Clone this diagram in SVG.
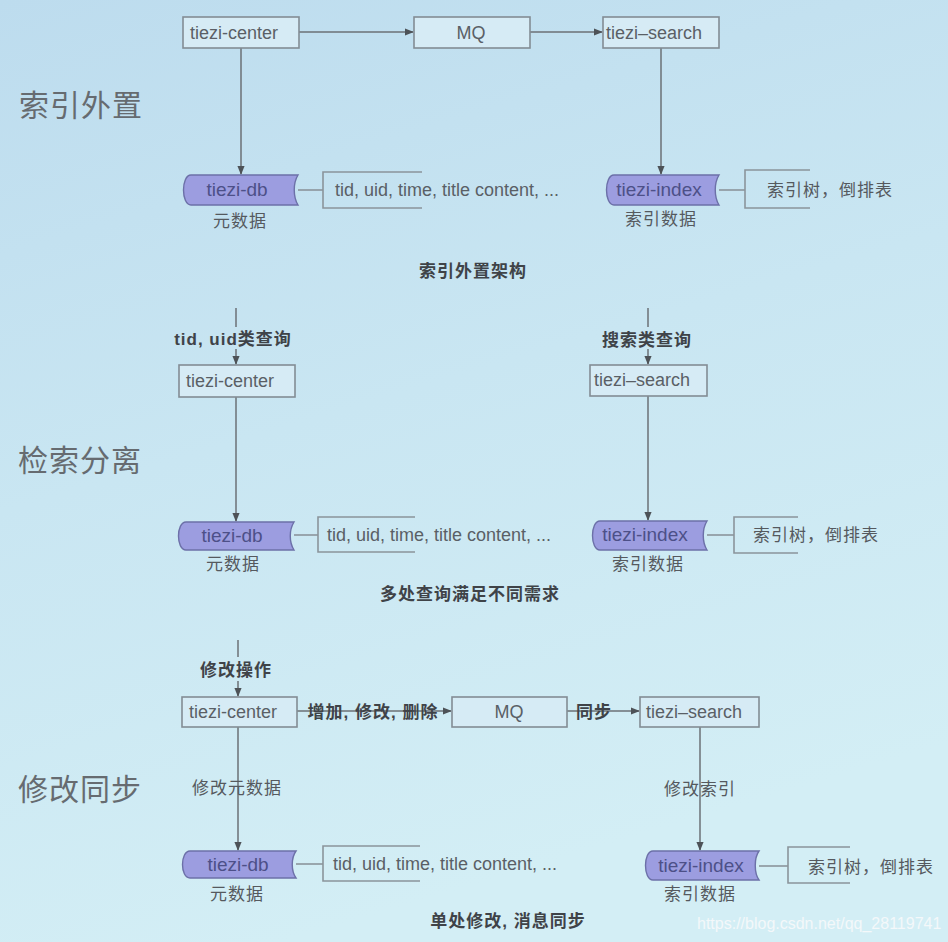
<svg xmlns="http://www.w3.org/2000/svg" width="948" height="942" viewBox="0 0 948 942">
<defs>
<linearGradient id="bg" x1="0" y1="0" x2="0.3" y2="1">
<stop offset="0" stop-color="#bddcee"/>
<stop offset="0.5" stop-color="#c9e6f2"/>
<stop offset="1" stop-color="#d3eef5"/>
</linearGradient>
<marker id="ah" viewBox="0 0 10 10" refX="9" refY="5" markerWidth="9" markerHeight="9" markerUnits="userSpaceOnUse" orient="auto">
<path d="M0,1 L10,5 L0,9 Z" fill="#4d5257"/>
</marker>
<style>
.box{fill:#d6ebf5;stroke:#838c94;stroke-width:1.6}
.db{fill:#9c9de0;stroke:#6c70a8;stroke-width:1.4}
.ln{fill:none;stroke:#6b7176;stroke-width:1.5}
.br{fill:none;stroke:#8b949b;stroke-width:1.6}
.t{font-family:"Liberation Sans",Arial,sans-serif;font-size:18px;fill:#5a5f66}
.tp{font-family:"Liberation Sans",Arial,sans-serif;font-size:19px;fill:#4d5088}
.cj{font-family:"Noto Sans CJK SC","Liberation Sans",sans-serif;font-size:17px;letter-spacing:1px;fill:#55595e}
.cb{font-family:"Liberation Sans","Noto Sans CJK SC",sans-serif;font-size:17px;letter-spacing:1px;font-weight:bold;fill:#3f4348}
.title{font-family:"Noto Sans CJK SC",sans-serif;font-size:30px;letter-spacing:1px;fill:#666b70}
.wm{font-family:"Liberation Sans",Arial,sans-serif;font-size:16px;fill:#f4f8fa}
</style>
</defs>
<rect width="948" height="942" fill="url(#bg)"/>

<text class="title" x="19" y="116">索引外置</text>
<text class="title" x="18" y="471">检索分离</text>
<text class="title" x="18" y="800">修改同步</text>

<g id="connectors">
<line class="ln" x1="299" y1="32" x2="413" y2="32" marker-end="url(#ah)"/>
<line class="ln" x1="530" y1="32" x2="602" y2="32" marker-end="url(#ah)"/>
<line class="ln" x1="241" y1="48" x2="241" y2="174" marker-end="url(#ah)"/>
<line class="ln" x1="661" y1="48" x2="661" y2="174" marker-end="url(#ah)"/>
<line class="br" x1="298" y1="190" x2="323" y2="190"/>
<line class="br" x1="719" y1="190" x2="745" y2="190"/>

<line class="ln" x1="236" y1="308" x2="236" y2="327"/>
<line class="ln" x1="236" y1="349" x2="236" y2="364" marker-end="url(#ah)"/>
<line class="ln" x1="236" y1="397" x2="236" y2="521" marker-end="url(#ah)"/>
<line class="ln" x1="648" y1="308" x2="648" y2="327"/>
<line class="ln" x1="648" y1="349" x2="648" y2="364" marker-end="url(#ah)"/>
<line class="ln" x1="648" y1="396" x2="648" y2="520" marker-end="url(#ah)"/>
<line class="br" x1="294" y1="535" x2="318" y2="535"/>
<line class="br" x1="707" y1="535" x2="734" y2="535"/>

<line class="ln" x1="238" y1="640" x2="238" y2="657"/>
<line class="ln" x1="238" y1="681" x2="238" y2="696" marker-end="url(#ah)"/>
<line class="ln" x1="297" y1="711" x2="451" y2="711" marker-end="url(#ah)"/>
<line class="ln" x1="567" y1="711" x2="639" y2="711" marker-end="url(#ah)"/>
<line class="ln" x1="238" y1="727" x2="238" y2="850" marker-end="url(#ah)"/>
<line class="ln" x1="700" y1="727" x2="700" y2="850" marker-end="url(#ah)"/>
<line class="br" x1="296" y1="864" x2="323" y2="864"/>
<line class="br" x1="759" y1="866" x2="788" y2="866"/>
</g>

<!-- Section 1 -->
<g id="s1-center"><rect class="box" x="183" y="17" width="116" height="31"/><text class="t" x="190" y="39">tiezi-center</text></g>
<g id="s1-mq"><rect class="box" x="414" y="17" width="116" height="31"/><text class="t" x="471" y="39" text-anchor="middle">MQ</text></g>
<g id="s1-search"><rect class="box" x="603" y="17" width="116" height="31"/><text class="t" x="606" y="39">tiezi–search</text></g>
<g id="s1-db"><path class="db" d="M191,175 H298 C293,183 293,197 298,205 H191 C181,205 181,175 191,175 Z"/><text class="tp" x="237" y="196" text-anchor="middle">tiezi-db</text><text class="cj" x="240" y="227" text-anchor="middle">元数据</text></g>
<g id="s1-dbfields"><path class="br" d="M422,172 H323 V208 H422"/><text class="t" x="335" y="196">tid, uid, time, title content, ...</text></g>
<g id="s1-index"><path class="db" d="M614,175 H719 C714,183 714,197 719,205 H614 C604,205 604,175 614,175 Z"/><text class="tp" x="659" y="196" text-anchor="middle">tiezi-index</text><text class="cj" x="661" y="225" text-anchor="middle">索引数据</text></g>
<g id="s1-indexfields"><path class="br" d="M810,170 H745 V208 H810"/><text class="cj" x="767" y="196">索引树，倒排表</text></g>
<text class="cb" x="473" y="277" text-anchor="middle">索引外置架构</text>

<!-- Section 2 -->
<g id="s2-q1"><text class="cb" x="233" y="345" text-anchor="middle">tid, uid类查询</text></g>
<g id="s2-center"><rect class="box" x="179" y="365" width="116" height="32"/><text class="t" x="186" y="387">tiezi-center</text></g>
<g id="s2-db"><path class="db" d="M186,522 H294 C289,530 289,542 294,550 H186 C176,550 176,522 186,522 Z"/><text class="tp" x="232" y="542" text-anchor="middle">tiezi-db</text><text class="cj" x="233" y="570" text-anchor="middle">元数据</text></g>
<g id="s2-dbfields"><path class="br" d="M415,517 H318 V552 H415"/><text class="t" x="327" y="541">tid, uid, time, title content, ...</text></g>
<g id="s2-q2"><text class="cb" x="647" y="346" text-anchor="middle">搜索类查询</text></g>
<g id="s2-search"><rect class="box" x="590" y="365" width="117" height="31"/><text class="t" x="594" y="386">tiezi–search</text></g>
<g id="s2-index"><path class="db" d="M600,521 H707 C702,529 702,542 707,550 H600 C590,550 590,521 600,521 Z"/><text class="tp" x="645" y="541" text-anchor="middle">tiezi-index</text><text class="cj" x="648" y="570" text-anchor="middle">索引数据</text></g>
<g id="s2-indexfields"><path class="br" d="M798,517 H734 V553 H798"/><text class="cj" x="753" y="541">索引树，倒排表</text></g>
<text class="cb" x="470" y="600" text-anchor="middle">多处查询满足不同需求</text>

<!-- Section 3 -->
<g id="s3-op"><text class="cb" x="236" y="676" text-anchor="middle">修改操作</text></g>
<g id="s3-center"><rect class="box" x="182" y="697" width="115" height="30"/><text class="t" x="189" y="718">tiezi-center</text></g>
<text class="cb" x="373" y="718" text-anchor="middle">增加, 修改, 删除</text>
<g id="s3-mq"><rect class="box" x="452" y="697" width="115" height="30"/><text class="t" x="509" y="718" text-anchor="middle">MQ</text></g>
<text class="cb" x="594" y="718" text-anchor="middle">同步</text>
<g id="s3-search"><rect class="box" x="640" y="697" width="119" height="30"/><text class="t" x="646" y="718">tiezi–search</text></g>
<text class="cj" x="237" y="794" text-anchor="middle">修改元数据</text>
<text class="cj" x="700" y="795" text-anchor="middle">修改索引</text>
<g id="s3-db"><path class="db" d="M190,851 H296 C291,858 291,871 296,878 H190 C180,878 180,851 190,851 Z"/><text class="tp" x="238" y="871" text-anchor="middle">tiezi-db</text><text class="cj" x="237" y="900" text-anchor="middle">元数据</text></g>
<g id="s3-dbfields"><path class="br" d="M420,846 H323 V881 H420"/><text class="t" x="333" y="870">tid, uid, time, title content, ...</text></g>
<g id="s3-index"><path class="db" d="M653,851 H759 C754,858 754,873 759,880 H653 C643,880 643,851 653,851 Z"/><text class="tp" x="701" y="872" text-anchor="middle">tiezi-index</text><text class="cj" x="700" y="900" text-anchor="middle">索引数据</text></g>
<g id="s3-indexfields"><path class="br" d="M850,847 H788 V883 H850"/><text class="cj" x="808" y="873">索引树，倒排表</text></g>
<text class="cb" x="508" y="927" text-anchor="middle">单处修改, 消息同步</text>

<text class="wm" x="697" y="929">https://blog.csdn.net/qq_28119741</text>
</svg>
